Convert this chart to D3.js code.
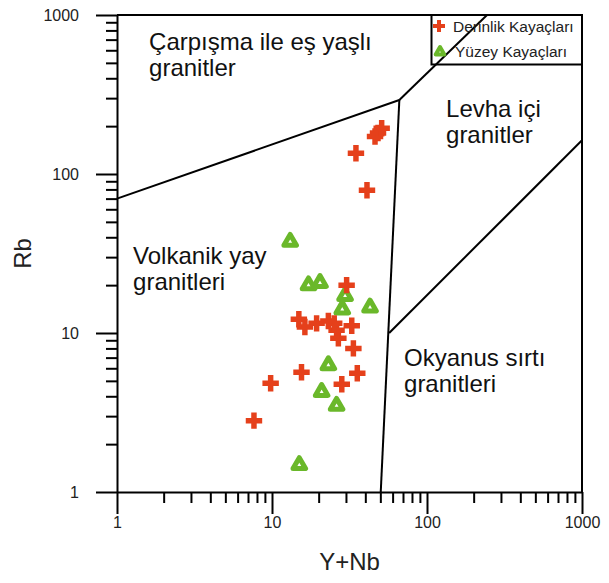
<!DOCTYPE html>
<html lang="en">
<head>
<meta charset="UTF-8" />
<title>Rb - Y+Nb</title>
<style>
  body { margin: 0; background: #fff; }
  svg { font-family: "Liberation Sans", Arial, sans-serif; display: block; }
  .axis path, .axis line { stroke: #000; stroke-width: 2px; }
  .axis text { font-size: 16px; fill: #222; }
  .boundary { fill: none; stroke: #000; stroke-width: 2px; }
  .region { font-size: 24px; fill: #111; }
</style>
</head>
<body>
<div class="container"></div>
<script src="https://d3js.org/d3.v7.min.js"></script>
<script>
// Derinlik Kayaçları (red crosses)
const derinlikYNb = [7.65, 9.8, 15.5, 28.2, 35.5, 33.5, 26.8, 32.7, 26.1, 25.2, 23.1, 19.4, 16.3, 14.9, 30.3, 41, 34.8, 46.2, 48.3, 51];
const derinlikRb  = [2.81, 4.83, 5.66, 4.76, 5.58, 8.0, 9.26, 11.1, 10.4, 11.5, 11.9, 11.5, 10.9, 12.2, 20.0, 79, 135, 172, 181, 194];
// Yüzey Kayaçları (green triangles)
const yuzeyYNb = [13.1, 17.2, 20.4, 29.6, 28.4, 42.9, 23.1, 20.9, 26.1, 15.0];
const yuzeyRb  = [37.5, 20.0, 20.7, 17.1, 14.1, 14.5, 6.29, 4.27, 3.49, 1.48];

const majorTicks = [1, 10, 100, 1000];
const tickLabels = ["1", "10", "100", "1000"];

// field boundaries (Y+Nb, Rb)
const synColgVag = [[1, 70], [66.3, 292]];
const synColgWpg = [[66.3, 292], [244, 1000]];
const vagWpg = [[66.3, 292], [50.3, 1]];
const wpgOrg = [[57, 10], [1000, 163]];

const regionNames = [["Çarpışma ile eş yaşlı", "granitler"], ["Levha içi", "granitler"], ["Volkanik yay", "granitleri"], ["Okyanus sırtı", "granitleri"]];
const regionAt = [[1.61, 600], [132.7, 228], [1.27, 27.2], [71.1, 6.2]];

const legendNames = ["Derinlik Kayaçları", "Yüzey Kayaçları"];

const w = 609, h = 583;
const red = "#e5401b", green = "#6ab82a";

const xScale = d3.scaleLog().domain([1, 1000]).range([117, 582]);
const yScale = d3.scaleLog().domain([1, 1000]).range([492, 15]);

const svg = d3.select(".container").append("svg")
  .attr("width", w).attr("height", h);

const minorTicks = [];
majorTicks.slice(0, 3).forEach(d => { for (let k = 2; k <= 9; k++) minorTicks.push(d * k); });

// minor ticks
svg.append("g").attr("class", "axis")
  .attr("transform", "translate(0," + yScale(1) + ")")
  .call(d3.axisBottom(xScale).tickValues(minorTicks).tickSize(11).tickFormat(""))
  .select(".domain").remove();
svg.append("g").attr("class", "axis")
  .attr("transform", "translate(" + xScale(1) + ",0)")
  .call(d3.axisLeft(yScale).tickValues(minorTicks).tickSize(11).tickFormat(""))
  .select(".domain").remove();

// major ticks + labels
svg.append("g").attr("class", "axis")
  .attr("transform", "translate(0," + yScale(1) + ")")
  .call(d3.axisBottom(xScale).tickValues(majorTicks).tickSize(22).tickSizeOuter(0)
    .tickPadding(3).tickFormat((d, i) => tickLabels[i]));
svg.append("g").attr("class", "axis")
  .attr("transform", "translate(" + xScale(1) + ",0)")
  .call(d3.axisLeft(yScale).tickValues(majorTicks).tickSize(21).tickSizeOuter(0)
    .tickPadding(17).tickFormat((d, i) => tickLabels[i]));

// top and right frame
svg.append("line").attr("class", "boundary")
  .attr("x1", xScale(1)).attr("x2", xScale(1000)).attr("y1", yScale(1000)).attr("y2", yScale(1000));
svg.append("line").attr("class", "boundary")
  .attr("x1", xScale(1000)).attr("x2", xScale(1000)).attr("y1", yScale(1000)).attr("y2", yScale(1));

// axis titles
svg.append("text").text("Y+Nb")
  .attr("x", (xScale(1) + xScale(1000)) / 2).attr("y", 570)
  .attr("text-anchor", "middle").style("font-size", "24px").style("fill", "#222");
svg.append("text").text("Rb")
  .attr("transform", "translate(31," + (yScale(1) + yScale(1000)) / 2 + ") rotate(-90)")
  .attr("text-anchor", "middle").style("font-size", "24px").style("fill", "#222");

// boundaries
const line = d3.line().x(d => xScale(d[0])).y(d => yScale(d[1]));
[synColgVag, synColgWpg, vagWpg, wpgOrg].forEach(seg => {
  svg.append("path").attr("class", "boundary").attr("d", line(seg));
});

// region labels
regionNames.forEach((lines, i) => {
  const t = svg.append("text").attr("class", "region")
    .attr("x", xScale(regionAt[i][0])).attr("y", yScale(regionAt[i][1]));
  lines.forEach((s, j) => {
    t.append("tspan").attr("x", xScale(regionAt[i][0])).attr("dy", j ? 26 : 0).text(s);
  });
});

// markers
const cross = d3.symbol().type(d3.symbolCross).size(150);
const tri = d3.symbol().type(d3.symbolTriangle).size(68);

svg.selectAll(".tri").data(yuzeyYNb).enter().append("path")
  .attr("class", "tri")
  .attr("d", tri)
  .attr("transform", (d, i) => "translate(" + xScale(d) + "," + yScale(yuzeyRb[i]) + ")")
  .style("fill", "#fff").style("stroke", green).style("stroke-width", 5)
  .style("stroke-linejoin", "round");

svg.selectAll(".cross").data(derinlikYNb).enter().append("path")
  .attr("class", "cross")
  .attr("d", cross)
  .attr("transform", (d, i) => "translate(" + xScale(d) + "," + yScale(derinlikRb[i]) + ")")
  .style("fill", red);

// legend
const lg = svg.append("g");
lg.append("rect").attr("x", 431.5).attr("y", 15).attr("width", 150.5).attr("height", 49.5)
  .style("fill", "none").style("stroke", "#000").style("stroke-width", 2);
lg.append("path").attr("d", d3.symbol().type(d3.symbolCross).size(80))
  .attr("transform", "translate(439,26)").style("fill", red);
lg.append("path").attr("d", d3.symbol().type(d3.symbolTriangle).size(32))
  .attr("transform", "translate(440,52)")
  .style("fill", "#fff").style("stroke", green).style("stroke-width", 4).style("stroke-linejoin", "round");
legendNames.forEach((s, i) => {
  lg.append("text").text(s).attr("x", i ? 455 : 453).attr("y", i ? 57 : 32)
    .style("font-size", "15.5px").style("fill", "#222");
});
</script>
</body>
</html>
